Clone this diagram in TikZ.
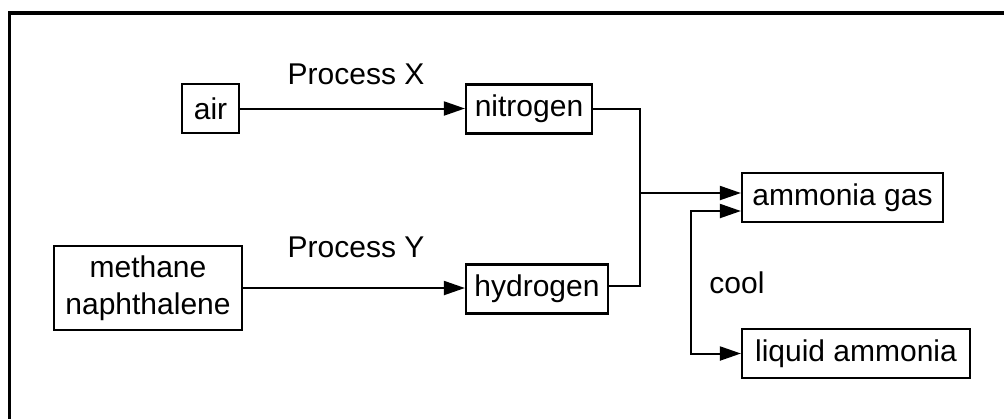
\documentclass[tikz,border=0pt]{standalone}
\usepackage{fontspec}
\setmainfont{Liberation Sans}
\usetikzlibrary{arrows.meta,calc}
\begin{document}
\begin{tikzpicture}[x=0.5pt,y=-0.5pt,
  txt/.style={font=\fontsize{15}{18.5}\selectfont},
  box/.style={txt, draw, line width=1.1pt, inner sep=0pt, minimum height=24.5pt},
  lbl/.style={txt, inner sep=0pt},
  conn/.style={line width=1pt},
  arr/.style={conn, -{Triangle[length=10.5pt,width=7pt]}},
  arrboth/.style={conn, {Triangle[length=10.5pt,width=7pt]}-{Triangle[length=10.5pt,width=7pt]}},
  frame/.style={line width=1.75pt}]
\useasboundingbox (0,0) rectangle (1004,419);
\draw[frame] (9.5,419) -- (9.5,13) -- (1004,13);

\node[box, minimum width=28.5pt] (air) at (210.5,108.5) {air};
\node[box, minimum width=63pt] (ni) at (529,109) {nitrogen};
\node[box, minimum width=94pt, minimum height=42pt, align=center] (me) at (148,288) {methane\\naphthalene};
\node[box, minimum width=71pt] (hy) at (537,289) {hydrogen};
\node[box, minimum width=100.5pt] (ag) at (842.5,197.5) {ammonia gas};
\node[box, minimum width=114pt] (lq) at (856,353.5) {liquid ammonia};

\node[lbl, anchor=base] (px) at (356,84) {Process X};
\node[lbl, anchor=base] (py) at (356,257) {Process Y};
\node[lbl, anchor=base west] (cool) at (709,293) {cool};

\coordinate (j) at (640,193);
\coordinate (k) at (691,211);

\draw[arr] (air.east) -- (air.east -| ni.west);
\draw[arr] (me.east) -- (me.east -| hy.west);
\draw[conn] (ni.east) -| (j) |- ([yshift=1.5pt]hy.east);
\draw[arr] (j) -- (j -| ag.west);
\draw[arrboth] (k -| ag.west) -- (k) |- (lq.west);
\end{tikzpicture}
\end{document}
